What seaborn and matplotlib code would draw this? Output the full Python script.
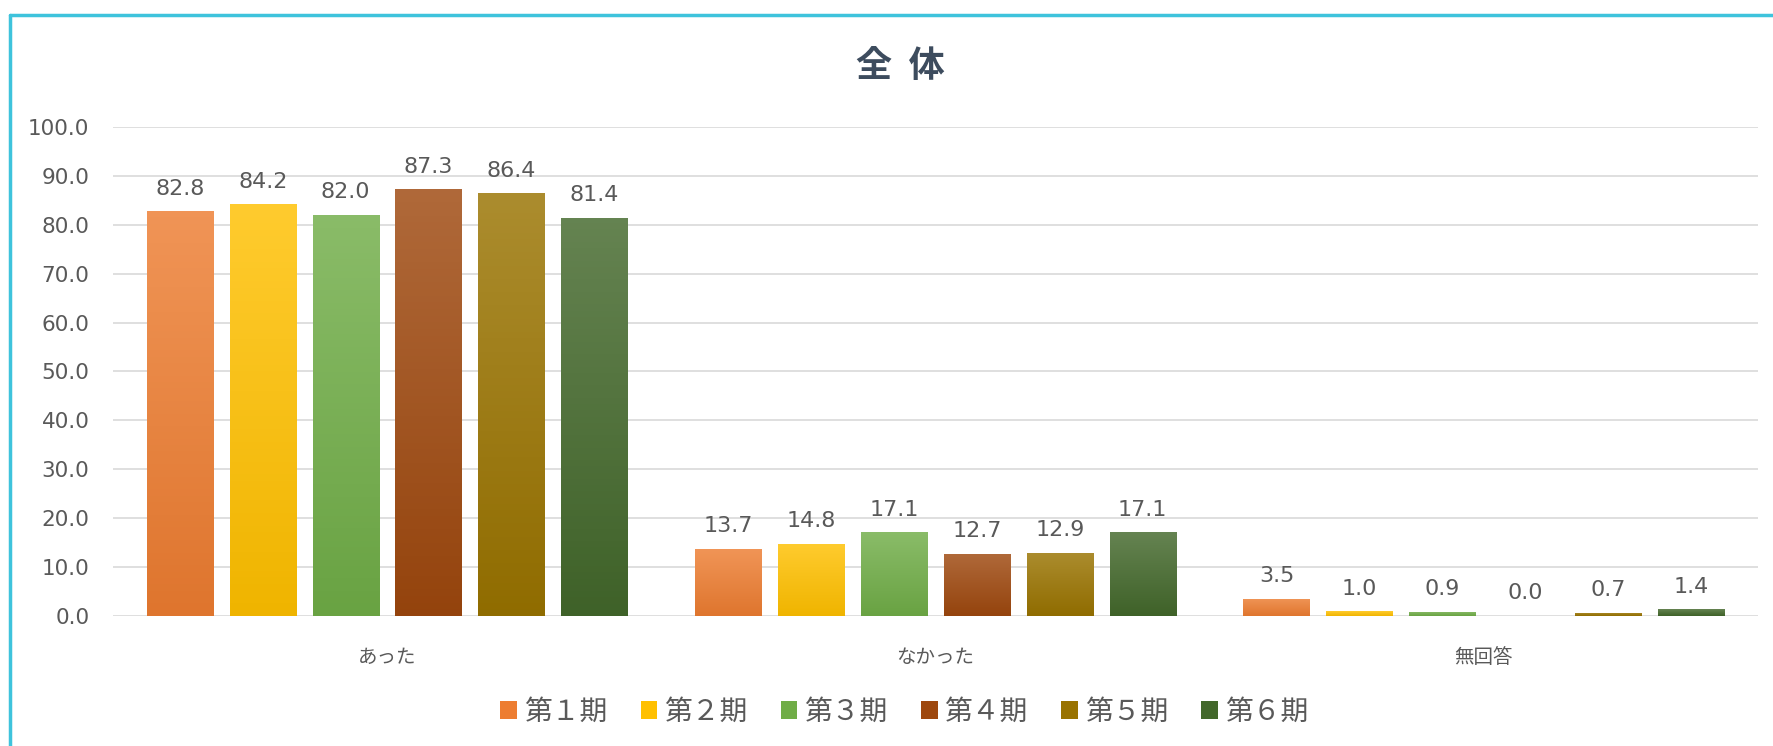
import matplotlib
matplotlib.use("Agg")
import matplotlib.pyplot as plt
import matplotlib.colors as mcolors
from matplotlib.patches import Patch
from matplotlib.lines import Line2D
import numpy as np
import pandas as pd
import seaborn as sns

# data
categories = ["あった", "なかった", "無回答"]
periods = ["第１期", "第２期", "第３期", "第４期", "第５期", "第６期"]
period1 = [82.8, 13.7, 3.5]
period2 = [84.2, 14.8, 1.0]
period3 = [82.0, 17.1, 0.9]
period4 = [87.3, 12.7, 0.0]
period5 = [86.4, 12.9, 0.7]
period6 = [81.4, 17.1, 1.4]
yticks = [0, 10, 20, 30, 40, 50, 60, 70, 80, 90, 100]

colors = ["#ED7D31", "#FFC000", "#70AD47", "#9E480E", "#997300", "#43682B"]

sns.set_theme(style="white")
plt.rcParams["font.family"] = ["Noto Sans CJK JP", "DejaVu Sans"]

TEXT = "#595959"
NUM_FONT = "DejaVu Sans"

rows = []
for name, vals in zip(periods, [period1, period2, period3, period4, period5, period6]):
    for cat, v in zip(categories, vals):
        rows.append({"category": cat, "period": name, "value": v})
df = pd.DataFrame(rows)

fig = plt.figure(figsize=(17.73, 7.46), dpi=100)
ax = fig.add_axes([0.0637, 0.1743, 0.9278, 0.6555])

sns.barplot(data=df, x="category", y="value", hue="period", hue_order=periods,
            palette=colors, width=0.907, gap=0.2, saturation=1, ax=ax,
            legend=False, linewidth=0)


def shade(c, f):
    r, g, b = mcolors.to_rgb(c)
    if f > 0:
        return (r + (1 - r) * f, g + (1 - g) * f, b + (1 - b) * f)
    return (r * (1 + f), g * (1 + f), b * (1 + f))


# vertical gradient like the office chart fill
for cont, col in zip(ax.containers, colors):
    top = np.array(shade(col, 0.18))
    bot = np.array(shade(col, -0.06))
    for p in cont.patches:
        h = p.get_height()
        if h <= 0:
            continue
        x, w = p.get_x(), p.get_width()
        t = np.linspace(0, 1, 64)[:, None]
        grad = (bot * (1 - t) + top * t)[:, None, :]
        im = ax.imshow(grad, extent=[x, x + w, 0, h], origin="lower",
                       aspect="auto", zorder=p.get_zorder() + 0.1)
        im.set_clip_path(p)
    ax.bar_label(cont, fmt="%.1f", padding=9, fontsize=16, color=TEXT,
                 family=NUM_FONT)

ax.set_xlim(-0.5, 2.5)
ax.set_ylim(0, 100)
ax.set_yticks(yticks)
ax.set_yticklabels([f"{v:.1f}" for v in yticks], family=NUM_FONT)
ax.grid(axis="y", color="#D9D9D9", linewidth=1.2)
ax.set_axisbelow(True)
for s in ax.spines.values():
    s.set_visible(False)
ax.tick_params(axis="y", length=0, labelsize=15.5, labelcolor=TEXT, pad=17)
ax.tick_params(axis="x", length=0, labelsize=14, labelcolor=TEXT, pad=22)
ax.set_xlabel("")
ax.set_ylabel("")

fig.text(0.5076, 0.9115, "全  体", ha="center", va="center", fontsize=26,
         fontweight="bold", color="#3D4C5E")

handles = [Patch(facecolor=c, edgecolor="none") for c in colors]
fig.legend(handles, periods, loc="center", bbox_to_anchor=(0.510, 0.046),
           ncol=6, frameon=False, fontsize=20, labelcolor=TEXT,
           handlelength=0.6, handleheight=0.6, handletextpad=0.25,
           columnspacing=1.2)

# cyan frame (only top and left edges are visible in the crop)
fig.add_artist(Line2D([10 / 1773, 1], [1 - 15 / 746, 1 - 15 / 746],
                      transform=fig.transFigure, color="#3EC3DC", linewidth=2.5))
fig.add_artist(Line2D([10 / 1773, 10 / 1773], [0, 1 - 15 / 746],
                      transform=fig.transFigure, color="#3EC3DC", linewidth=2.5))

fig.savefig("out.png", dpi=100)
